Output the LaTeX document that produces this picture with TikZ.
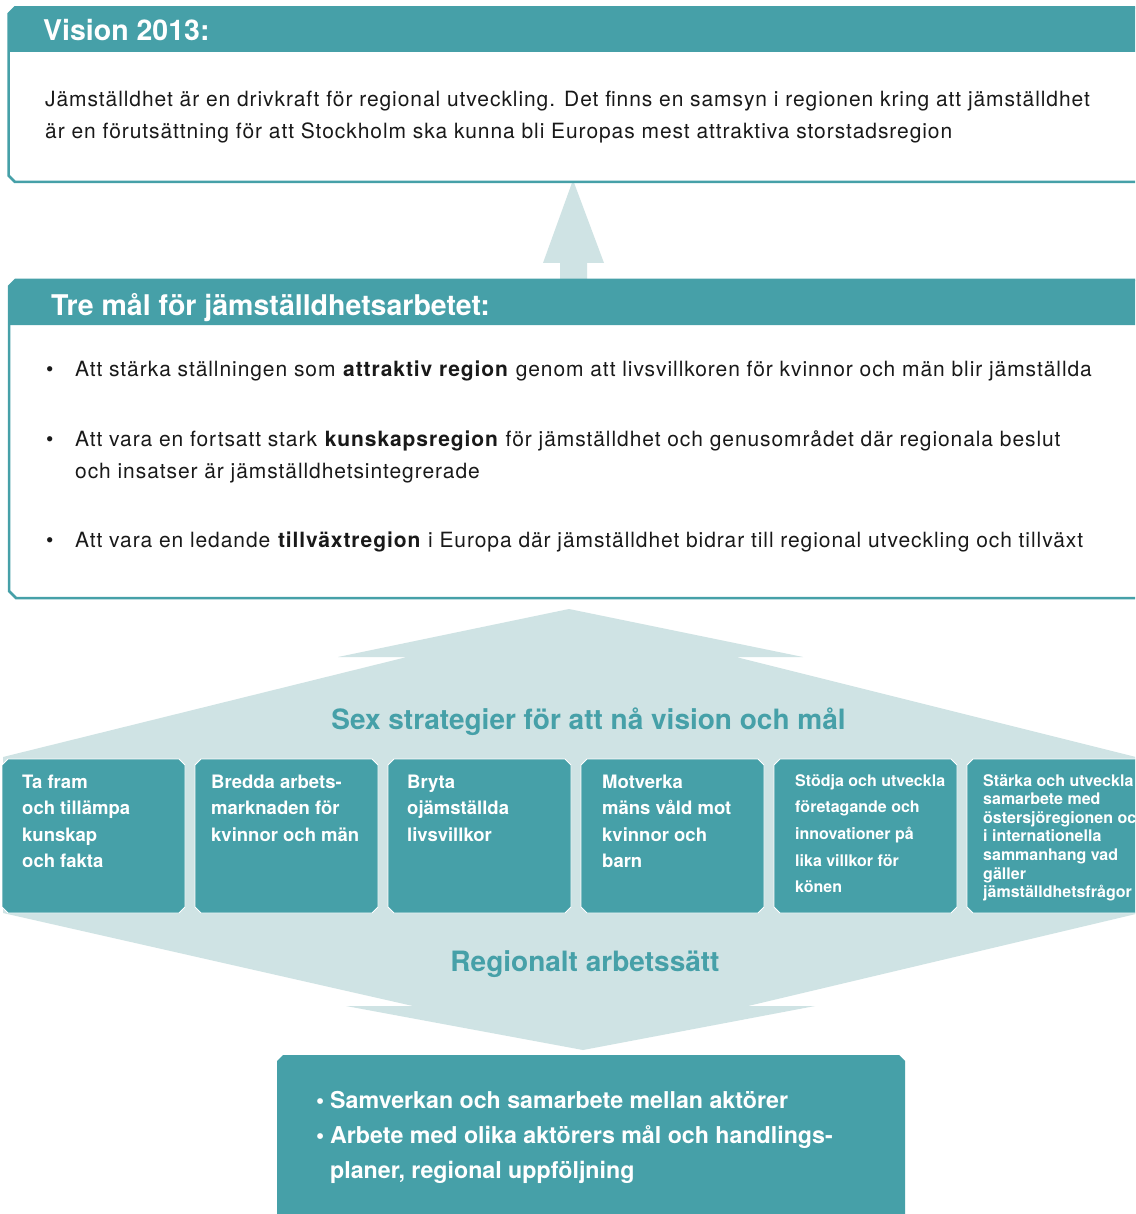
\documentclass[tikz,border=0pt]{standalone}
\usepackage{fontspec}
\setmainfont{TeX Gyre Heros}
\newfontfamily\bodyf[LetterSpace=4.4]{TeX Gyre Heros}
\usetikzlibrary{calc}
\definecolor{tealc}{RGB}{70,160,168}
\definecolor{lightc}{RGB}{207,227,228}
\definecolor{inkc}{RGB}{25,25,25}
% octagonal (chamfered) box: #1 style, #2 left, #3 top, #4 right, #5 bottom
\newcommand\octbox[5]{\path[#1] (#2,#3+6) -- (#2+6,#3) -- (#4-6,#3) -- (#4,#3+6) -- (#4,#5-6) -- (#4-6,#5) -- (#2+6,#5) -- (#2,#5-6) -- cycle;}
\begin{document}
\begin{tikzpicture}[x=1pt,y=-1pt,
  hdr/.style={font=\fontsize{28.5}{28.5}\selectfont\bfseries, text=white, anchor=base west, inner sep=0},
  body/.style={font=\bodyf\fontsize{21}{32}\selectfont, text=inkc, anchor=base west, inner sep=0, align=left},
  strat/.style={font=\fontsize{18.5}{26.6}\selectfont\bfseries, text=white, anchor=base west, inner sep=0, align=left},
  ttl/.style={font=\fontsize{28}{28}\selectfont\bfseries, text=tealc, anchor=base, inner sep=0},
  boxfill/.style={fill=tealc, draw=white, line width=0.8},
  frame/.style={draw=tealc, line width=2.5}]
\useasboundingbox (0,0) rectangle (1135,1214);
\fill[white] (0,0) rectangle (1135,1214);
\clip (0,0) rectangle (1135,1214);

% light chevron band
\fill[lightc] (3,757) -- (407,657) -- (338,657) -- (569,609) -- (803,657) -- (736,657) -- (1140,758)
  -- (1140,913) -- (748,1006) -- (815,1006) -- (583,1050) -- (346,1006) -- (413,1006) -- (3,913) -- cycle;

% block arrow up
\coordinate (atip) at (573,180);
\fill[lightc] (atip) -- ++(31,83) -- ++(-17,0) -- ++(0,19) -- ++(-27,0) -- ++(0,-19) -- ++(-17,0) -- cycle;

% vision box
\fill[white] (8.5,14) -- (15,7.5) -- (1150,7.5) -- (1150,182) -- (15,182) -- (8.5,175.5) -- cycle;
\fill[tealc] (8.5,14) -- (15,7.5) -- (1150,7.5) -- (1150,52) -- (8.5,52) -- cycle;
\draw[frame] (8.5,14) -- (15,7.5) -- (1150,7.5) -- (1150,182) -- (15,182) -- (8.5,175.5) -- cycle;
\node[hdr] (vtitle) at (43,41) {Vision 2013:};
\node[body] (vtext) at (45,139) {Jämställdhet är en drivkraft för regional utveckling. Det finns en samsyn i regionen kring att jämställdhet\\är en förutsättning för att Stockholm ska kunna bli Europas mest attraktiva storstadsregion};

% goals box
\fill[white] (9,286.5) -- (15.5,280) -- (1150,280) -- (1150,598) -- (16,598) -- (9,591) -- cycle;
\fill[tealc] (9,286.5) -- (15.5,280) -- (1150,280) -- (1150,325) -- (9,325) -- cycle;
\draw[frame] (9,286.5) -- (15.5,280) -- (1150,280) -- (1150,598) -- (16,598) -- (9,591) -- cycle;
\node[hdr] (mtitle) at (51,315) {Tre mål för jämställdhetsarbetet:};
\node[body] (m1) at (46,376) {\makebox[29pt][l]{•}Att stärka ställningen som \textbf{attraktiv region} genom att livsvillkoren för kvinnor och män blir jämställda};
\node[body] (m2) at (46,478) {\makebox[29pt][l]{•}Att vara en fortsatt stark \textbf{kunskapsregion} för jämställdhet och genusområdet där regionala beslut\\\hspace*{29pt}och insatser är jämställdhetsintegrerade};
\node[body] (m3) at (46,547) {\makebox[29pt][l]{•}Att vara en ledande \textbf{tillväxtregion} i Europa där jämställdhet bidrar till regional utveckling och tillväxt};

% strategies
\node[ttl] (sex) at (588.5,729) {Sex strategier för att nå vision och mål};
\octbox{boxfill}{2}{759}{185}{913}
\octbox{boxfill}{195}{759}{378}{913}
\octbox{boxfill}{388}{759}{571}{913}
\octbox{boxfill}{581}{759}{764}{913}
\octbox{boxfill}{774}{759}{957}{913}
\octbox{boxfill}{967}{759}{1150}{913}
% (base anchor of a multi-line node is the baseline of its last line)
\node[strat] (s1) at (22,867.8) {Ta fram\\och tillämpa\\kunskap\\och fakta};
\node[strat] (s2) at (211,841.2) {Bredda arbets-\\marknaden för\\kvinnor och män};
\node[strat] (s3) at (407,841.2) {Bryta\\ojämställda\\livsvillkor};
\node[strat] (s4) at (602,867.8) {Motverka\\mäns våld mot\\kvinnor och\\barn};
\node[strat, font=\fontsize{16}{26.7}\selectfont\bfseries] (s5) at (795,892.8) {Stödja och utveckla\\företagande och\\innovationer på\\lika villkor för\\könen};
\node[strat, font=\fontsize{16}{18.6}\selectfont\bfseries] (s6) at (983,897.6) {Stärka och utveckla\\samarbete med\\östersjöregionen och\\i internationella\\sammanhang vad\\gäller\\jämställdhetsfrågor};

\node[ttl] (reg) at (585,971) {Regionalt arbetssätt};

% bottom box
\fill[tealc] (277,1061) -- (283,1055) -- (899,1055) -- (905,1061) -- (905,1230) -- (277,1230) -- cycle;
\node[strat, font=\fontsize{23.2}{35}\selectfont\bfseries] (work) at (316,1178) {\makebox[14pt][l]{•}Samverkan och samarbete mellan aktörer\\\makebox[14pt][l]{•}Arbete med olika aktörers mål och handlings-\\\hspace*{14pt}planer, regional uppföljning};
\end{tikzpicture}
\end{document}
